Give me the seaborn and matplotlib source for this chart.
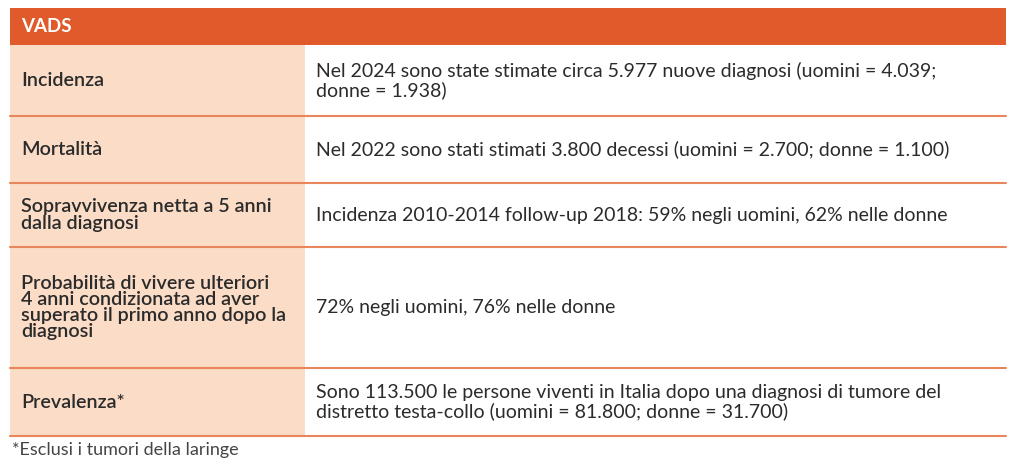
import seaborn as sns
import matplotlib.pyplot as plt
from matplotlib.patches import Rectangle

sns.set_style("white")
plt.rcParams['font.family'] = ['Lato', 'DejaVu Sans']

title = "VADS"
row_labels = ["Incidenza", "Mortalità", "Sopravvivenza netta a 5 anni\ndalla diagnosi",
              "Probabilità di vivere ulteriori\n4 anni condizionata ad aver\nsuperato il primo anno dopo la\ndiagnosi",
              "Prevalenza*"]
row_texts = ["Nel 2024 sono state stimate circa 5.977 nuove diagnosi (uomini = 4.039;\ndonne = 1.938)",
             "Nel 2022 sono stati stimati 3.800 decessi (uomini = 2.700; donne = 1.100)",
             "Incidenza 2010-2014 follow-up 2018: 59% negli uomini, 62% nelle donne",
             "72% negli uomini, 76% nelle donne",
             "Sono 113.500 le persone viventi in Italia dopo una diagnosi di tumore del\ndistretto testa-collo (uomini = 81.800; donne = 31.700)"]
footnote = "*Esclusi i tumori della laringe"

orange = "#E05A2B"
peach = "#FADCC7"
line_c = "#E8865C"
txt = "#2b2b2b"

fig = plt.figure(figsize=(10.24, 4.65), dpi=100)
ax = fig.add_axes([0, 0, 1, 1])
ax.set_xlim(0, 1024)
ax.set_ylim(465, 0)
ax.axis("off")

x0, xm, x1 = 10, 305, 1006
bounds = [45, 116, 183, 247, 368, 436]

ax.add_patch(Rectangle((x0, 8), x1 - x0, 37, color=orange, lw=0))
ax.text(21, 27, title, color="white", fontsize=13.5, fontweight="bold", va="center")

for i, (lab, t) in enumerate(zip(row_labels, row_texts)):
    top, bot = bounds[i], bounds[i + 1]
    ax.add_patch(Rectangle((x0, top), xm - x0, bot - top, color=peach, lw=0))
    ax.plot([x0, x1], [bot, bot], color=line_c, lw=1.5)
    mid = (top + bot) / 2
    ax.text(21, mid, lab, color=txt, fontsize=14.2, fontweight="semibold", va="center",
            linespacing=0.95)
    ax.text(316, mid, t, color=txt, fontsize=14, va="center", linespacing=1.07)

ax.text(12, 450, footnote, color="#444444", fontsize=13, va="center")

fig.savefig("out.png", dpi=100)
